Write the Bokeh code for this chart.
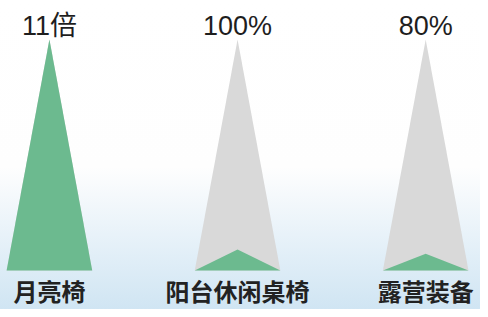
from bokeh.plotting import figure
from bokeh.models import Range1d, ColumnDataSource
from bokeh.core.properties import value
from bokeh.embed import file_html
from bokeh.resources import INLINE

# ---- data ----
categories = ["月亮椅", "阳台休闲桌椅", "露营装备"]
growth = [1100, 100, 80]            # growth in %
growth_labels = ["11倍", "100%", "80%"]
full_scale = 1100                   # the grey reference triangles

W, H = 480, 309
HALF = 0.2275                       # half base width in category units

idx = list(range(len(categories)))
xs = [[i - HALF, i, i + HALF] for i in idx]
bg_ys = [[0, full_scale, 0] for _ in idx]
fg_ys = [[0, g, 0] for g in growth]

src_bg = ColumnDataSource(dict(xs=xs, ys=bg_ys))
src_fg = ColumnDataSource(dict(xs=xs, ys=fg_ys))
src_lab = ColumnDataSource(dict(x=idx, top=[full_scale] * len(idx), base=[0] * len(idx),
                                val=growth_labels, cat=categories))

p = figure(width=W, height=H, output_backend="svg", toolbar_location=None,
           x_range=Range1d(-0.26, 2.2913), y_range=Range1d(-186, 1286),
           min_border=0)
p.axis.visible = False
p.grid.visible = False
p.outline_line_color = None
p.background_fill_alpha = 0
p.border_fill_alpha = 0
p.styles = {"background": "linear-gradient(to bottom, #ffffff 0%, #fefefe 54%, #e8f2f9 76%, #d0e5f3 100%)"}

p.patches("xs", "ys", source=src_bg, fill_color="#d9d9d9", line_color=None)
p.patches("xs", "ys", source=src_fg, fill_color="#6cba8f", line_color=None)

font = value("'Liberation Sans', 'Noto Sans CJK SC', sans-serif")
p.text(x="x", y="top", text="val", source=src_lab, text_align="center",
       text_baseline="alphabetic", y_offset=-14, text_font=font,
       text_font_size="27px", text_color="#1e1e1e")
p.text(x="x", y="base", text="cat", source=src_lab, text_align="center",
       text_baseline="top", y_offset=3, text_font=value("'Noto Sans CJK SC', sans-serif"),
       text_font_size="24px", text_font_style="bold", text_color="#222222")

open("out.html", "w").write(file_html(p, INLINE))
